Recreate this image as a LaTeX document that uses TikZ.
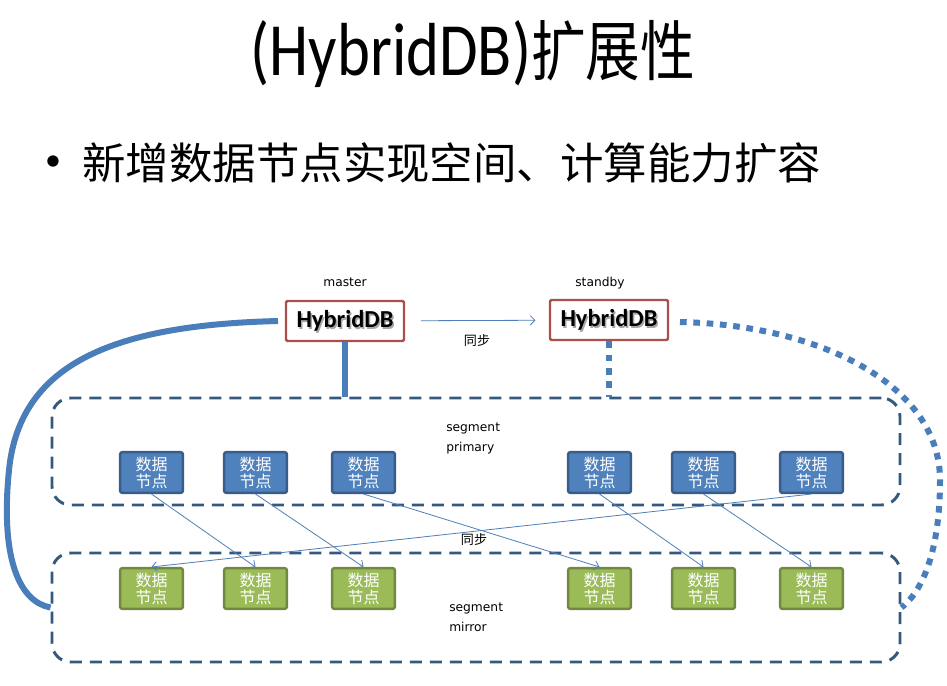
\documentclass[tikz,border=0pt]{standalone}
\usepackage{fontspec}
\setmainfont{Carlito}
\newfontfamily\cjk{Noto Sans CJK SC}
\newfontfamily\lab{DejaVu Sans}
\usetikzlibrary{arrows.meta}
\definecolor{nodeblue}{HTML}{4F81BD}
\definecolor{nodeblueb}{HTML}{385D8A}
\definecolor{nodegreen}{HTML}{9BBB59}
\definecolor{nodegreenb}{HTML}{71893F}
\definecolor{dashc}{HTML}{35587F}
\definecolor{thickc}{HTML}{4A7EBB}
\definecolor{redb}{HTML}{A9504D}
\definecolor{thinc}{HTML}{4F7FB8}
\tikzset{
  segbox/.style={draw=dashc, line width=2.2pt, dash pattern=on 9pt off 6pt, rounded corners=14pt, minimum width=636pt, inner sep=0pt},
  pnode/.style={draw=nodeblueb, fill=nodeblue, line width=1.8pt, rounded corners=1.5pt, minimum width=47pt, minimum height=30.5pt, inner sep=0pt, text=white, align=center, font=\cjk\fontsize{12}{12.8}\selectfont},
  mnode/.style={pnode, draw=nodegreenb, fill=nodegreen},
  dbbox/.style={draw=redb, fill=white, line width=1.8pt, minimum width=88.5pt, minimum height=30pt, inner sep=0pt, rounded corners=1pt},
  dbtext/.style={font=\bfseries\fontsize{18.3}{20}\selectfont},
  small/.style={font=\lab\fontsize{9.2}{15}\selectfont, inner sep=0pt},
  syncl/.style={font=\cjk\fontsize{9.8}{12}\selectfont, inner sep=0pt},
  thinarrow/.style={draw=thinc, line width=0.6pt, -{Straight Barb[length=3.5pt,width=7pt]}},
  thickline/.style={draw=thickc, line width=4.5pt},
  dotline/.style={draw=thickc, line width=4.5pt, dash pattern=on 5pt off 5pt},
}
\begin{document}
\begin{tikzpicture}[x=0.75pt,y=-0.75pt]
\useasboundingbox (0,0) rectangle (947,686);
\fill[white] (0,0) rectangle (947,686);
% title
\node[inner sep=0pt, yscale=1.2] (title) at (473,54) {\fontsize{47}{52}\selectfont (HybridDB)\cjk\fontsize{41}{52}\selectfont 扩展性};
\node[inner sep=0pt] (bullet) at (53,163) {\fontsize{24}{30}\selectfont •};
\node[anchor=west, inner sep=0pt] (btext) at (82,163) {\cjk\fontsize{32.6}{40}\selectfont 新增数据节点实现空间、计算能力扩容};
% segment boxes
\node[segbox, minimum height=80.25pt] (prim) at (476,451.5) {};
\node[segbox, minimum height=81.75pt] (mirr) at (476,607.5) {};
% masters
\node[dbbox] (master) at (345,321) {};
\node[dbtext, text=black!35] (mastersh) at (346.5,323) {HybridDB};
\node[dbtext] (mastert) at (345,321) {HybridDB};
\node[dbbox] (standby) at (609,320) {};
\node[dbtext, text=black!35] (standbysh) at (610.5,322) {HybridDB};
\node[dbtext] (standbyt) at (609,320) {HybridDB};
\node[small] (masterl) at (345,282) {master};
\node[small] (standbyl) at (600,283) {standby};
\draw[thinarrow, shorten <=12pt, shorten >=10pt] (master) -- (standby);
\node[syncl] (sync1) at (477,341) {同步};
% connections to segment
\draw[thickline] (master.south) -- (master.south |- prim.north);
\draw[dotline] (standby.south) -- (standby.south |- prim.north);
\coordinate (mleft) at (278,321);
\coordinate (sright) at (680,322);
\draw[thickline] (mleft) .. controls (120,325) and (20,360) .. (9,470) .. controls (0,560) and (20,602) .. (mirr.west);
\draw[dotline] (sright) .. controls (820,325) and (940,385) .. (940,480) .. controls (940,560) and (918,595) .. (mirr.east);
% labels
\node[small, anchor=west, align=left] (segp) at (446,438) {segment\\primary};
\node[small, anchor=west, align=left] (segm) at (449,617) {segment\\mirror};
% data nodes
\foreach \i/\x in {1/151.5,2/255.5,3/363.5,4/599.5,5/703.5,6/811.5}{
  \node[pnode] (p\i) at (\x,472.5) {数据\\节点};
  \node[mnode] (m\i) at (\x,588.5) {数据\\节点};
}
\draw[thinarrow] (p1.south) -- (m2.north);
\draw[thinarrow] (p2.south) -- (m3.north);
\draw[thinarrow] (p3.south) -- (m4.north);
\draw[thinarrow] (p4.south) -- (m5.north);
\draw[thinarrow] (p5.south) -- (m6.north);
\draw[thinarrow] (p6.south) -- (m1.north);
\node[syncl] (sync2) at (474,540) {同步};
\end{tikzpicture}
\end{document}
